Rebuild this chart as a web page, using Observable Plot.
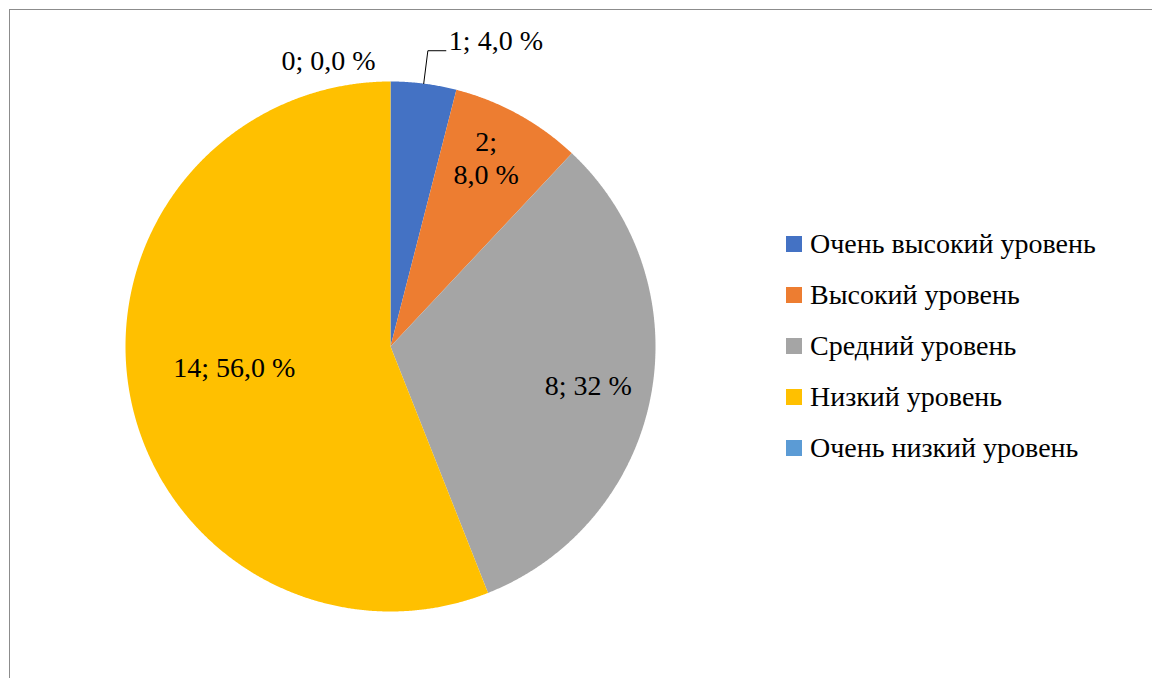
<!DOCTYPE html>
<html><head><meta charset="utf-8">
<script src="https://cdn.jsdelivr.net/npm/d3@7"></script>
<script src="https://cdn.jsdelivr.net/npm/@observablehq/plot@0.6"></script>
<style>
html,body{margin:0;padding:0;background:#fff;overflow:hidden;}
#wrap{position:relative;width:1152px;height:678px;overflow:hidden;}
#frame{position:absolute;left:9px;top:9px;width:1200px;height:700px;border:1.5px solid #8c8c8c;box-sizing:border-box;}
#chart{position:absolute;left:0;top:0;}
#legend{position:absolute;left:786px;top:218px;}
#legend, #legend *{font-family:'Liberation Serif' !important;font-size:28px;}
#legend .lg-swatches{margin:0 !important;}
#legend .lg-swatch{height:51.2px;padding-bottom:0 !important;display:flex;align-items:center;}
#legend .lg-swatch svg{margin-right:8px !important;}
#legend .lg-swatch > div{overflow:visible !important;white-space:nowrap;}
</style></head><body>
<div id="wrap"><div id="frame"></div><div id="chart"></div><div id="legend"></div></div>
<script>
// ---- data ----
const categories = ["Очень высокий уровень", "Высокий уровень", "Средний уровень", "Низкий уровень", "Очень низкий уровень"];
const counts = [1, 2, 8, 14, 0];
const labels = ["1; 4,0 %", "2;\n8,0 %", "8; 32 %", "14; 56,0 %", "0; 0,0 %"];
const colors = ["#4472C4", "#ED7D31", "#A5A5A5", "#FFC000", "#5B9BD5"];

// ---- label layout (polar radius fraction + pixel nudges) ----
const labelRadius = [1.125, 0.75, 0.76, 0.6, 1.0];
const labelDx = [21, 0, 0, 0, -62];
const labelDy = [-11, -15, 0, -10, -22];
const labelAnchor = ["start", "middle", "middle", "middle", "middle"];
const FONT = "Liberation Serif";
const FONT_SIZE = 28; // largest size at which this sandbox still renders the serif face

const rows = categories.map((c, i) => ({category: c, count: counts[i], label: labels[i]}));
const arcs = d3.pie().sort(null).value(d => d.count).startAngle(0).endAngle(2 * Math.PI)(rows);
const polar = (a, r) => [r * Math.sin(a), r * Math.cos(a)];

const slicePts = [];
arcs.forEach(a => {
  const span = a.endAngle - a.startAngle;
  if (span <= 0) return;
  const n = Math.max(2, Math.ceil(span / (Math.PI / 720)));
  slicePts.push({category: a.data.category, x: 0, y: 0});
  for (let k = 0; k <= n; k++) {
    const [x, y] = polar(a.startAngle + span * k / n, 1);
    slicePts.push({category: a.data.category, x, y});
  }
});

const labelPts = arcs.map((a, i) => {
  const m = (a.startAngle + a.endAngle) / 2;
  const [x, y] = polar(m, labelRadius[i]);
  return {...a.data, x, y, i, m};
});

// leader line for the first (small) slice
const b = labelPts[0];
const p0 = polar(b.m, 1.0), p1 = polar(b.m, labelRadius[0]);
const leader = [
  {x: p0[0], y: p0[1]},
  {x: p1[0], y: p1[1]},
  {x: p1[0] + 18 / 265, y: p1[1]}
];

const labelMarks = labelPts.map(d => Plot.text([d], {
  x: "x", y: "y", text: "label",
  dx: labelDx[d.i], dy: labelDy[d.i], textAnchor: labelAnchor[d.i],
  fontSize: FONT_SIZE, fill: "#000", lineHeight: 1.18, fontFamily: FONT
}));

const chart = Plot.plot({
  width: 1152, height: 678, margin: 0,
  x: {domain: [-1, 1], range: [125, 655], axis: null},
  y: {domain: [-1, 1], range: [611, 81], axis: null},
  color: {domain: categories, range: colors},
  style: {background: "transparent", overflow: "visible", fontFamily: FONT},
  marks: [
    Plot.line(slicePts, {x: "x", y: "y", z: "category", fill: "category", stroke: "none", curve: "linear"}),
    Plot.line(leader, {x: "x", y: "y", stroke: "#000", strokeWidth: 1}),
    ...labelMarks
  ]
});
document.getElementById("chart").append(chart);

const legend = chart.legend("color", {
  columns: 1, swatchSize: 16, className: "lg",
  style: {fontFamily: FONT, fontSize: FONT_SIZE + "px", color: "#000"}
});
document.getElementById("legend").append(legend);
</script>
</body></html>
